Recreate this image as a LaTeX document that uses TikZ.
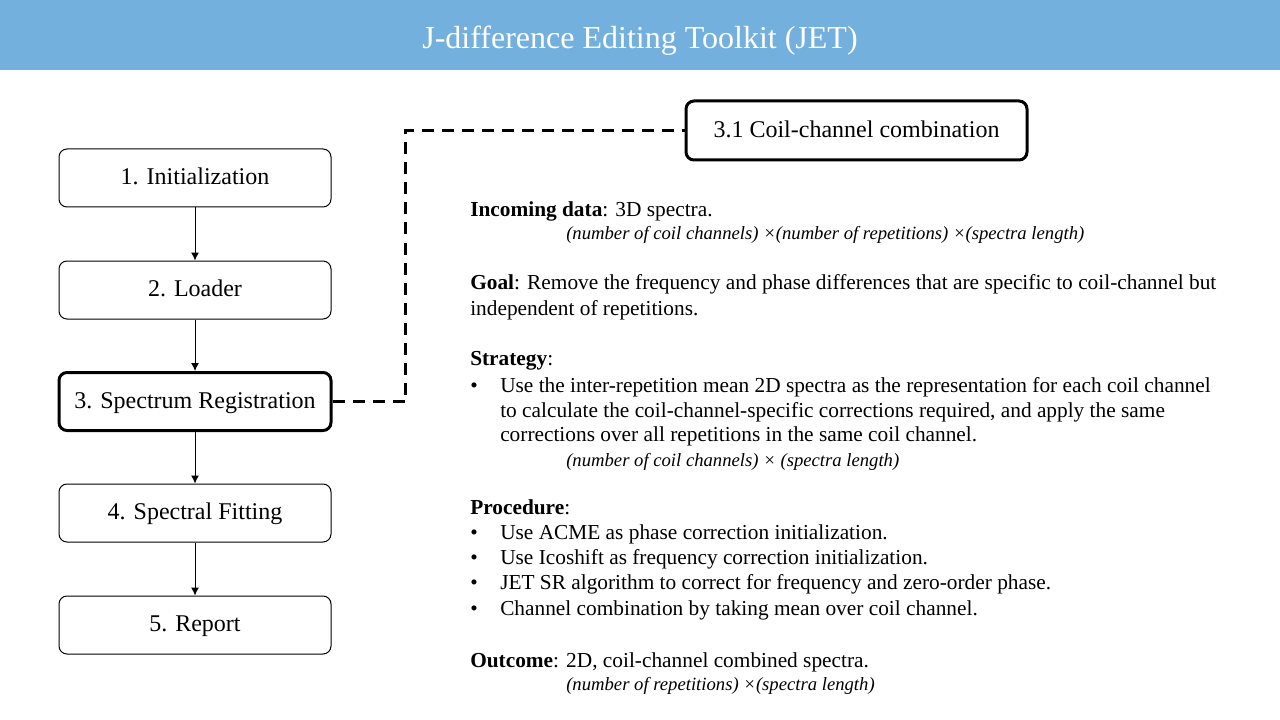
\documentclass[tikz,border=0pt]{standalone}
\usepackage{fontspec}
\setmainfont{Liberation Serif}
\usetikzlibrary{arrows.meta,positioning}
\definecolor{jetblue}{RGB}{116,176,222}

\begin{document}
\begin{tikzpicture}[x=0.75pt, y=-0.75pt, >={Latex[length=6pt,width=6pt]},
	stage/.style={draw, rounded corners=6pt, line width=0.75pt, minimum width=204pt, minimum height=43.5pt, text height=13pt, text depth=3pt, font=\fontsize{18}{21}\selectfont},
	active/.style={stage, line width=2.25pt},
	body/.style={anchor=base west, inner sep=0pt, font=\fontsize{16}{19}\selectfont},
	dims/.style={anchor=base west, inner sep=0pt, font=\fontsize{14}{17}\selectfont\itshape},
	link/.style={line width=2pt, dash pattern=on 9pt off 6pt}]
	\useasboundingbox (0,0) rectangle (1280,720);
	\fill[jetblue] (0,0) rectangle (1280,70);
	\node[white, font=\fontsize{24}{28}\selectfont] (title) at (640,41) {J-difference Editing Toolkit (JET)};
	% pipeline stages
	\node[stage] (init) at (195,178) {1. Initialization};
	\node[stage] (load) at (195,290) {2. Loader};
	\node[active] (reg) at (195,401.5) {3. Spectrum Registration};
	\node[stage] (fit) at (195,513) {4. Spectral Fitting};
	\node[stage] (rep) at (195,625) {5. Report};
	\foreach \a/\b in {init/load, load/reg, reg/fit, fit/rep} {\draw[->, line width=0.75pt] (\a) -- (\b);}
	% sub-step
	\node[active, minimum width=255.75pt, minimum height=44.25pt] (coil) at (856.5,130.5) {3.1 Coil-channel combination};
	\draw[link] (reg.east) -- ++(73,0) |- (coil.west);
	% description
	\node[body] (inc) at (470,217) {\textbf{Incoming data}: 3D spectra.};
	\node[dims] (incdim) at (566,239) {(number of coil channels) ×(number of repetitions) ×(spectra length)};
	\node[body] (goal) at (470,289) {\makebox[559.5pt][s]{\textbf{Goal}: Remove the frequency and phase differences that are specific to coil-channel but}};
	\node[body] (goal2) at (470,315) {independent of repetitions.};
	\node[body] (strat) at (470,365) {\textbf{Strategy}:};
	\node[body] (strat1) at (470,392) {\makebox[22.5pt][l]{\textbullet}Use the inter-repetition mean 2D spectra as the representation for each coil channel};
	\node[body] (strat2) at (500,417) {to calculate the coil-channel-specific corrections required, and apply the same};
	\node[body] (strat3) at (500,441) {corrections over all repetitions in the same coil channel.};
	\node[dims] (stratdim) at (566,466) {(number of coil channels) × (spectra length)};
	\node[body] (proc) at (470,514) {\textbf{Procedure}:};
	\foreach \y/\txt [count=\i] in {539/Use ACME as phase correction initialization., 564/Use Icoshift as frequency correction initialization., 589/JET SR algorithm to correct for frequency and zero-order phase., 615/Channel combination by taking mean over coil channel.}
		{\node[body] (proc\i) at (470,\y) {\makebox[22.5pt][l]{\textbullet}\txt};}
	\node[body] (out) at (470,667) {\textbf{Outcome}: 2D, coil-channel combined spectra.};
	\node[dims] (outdim) at (566,690) {(number of repetitions) ×(spectra length)};
\end{tikzpicture}
\end{document}
